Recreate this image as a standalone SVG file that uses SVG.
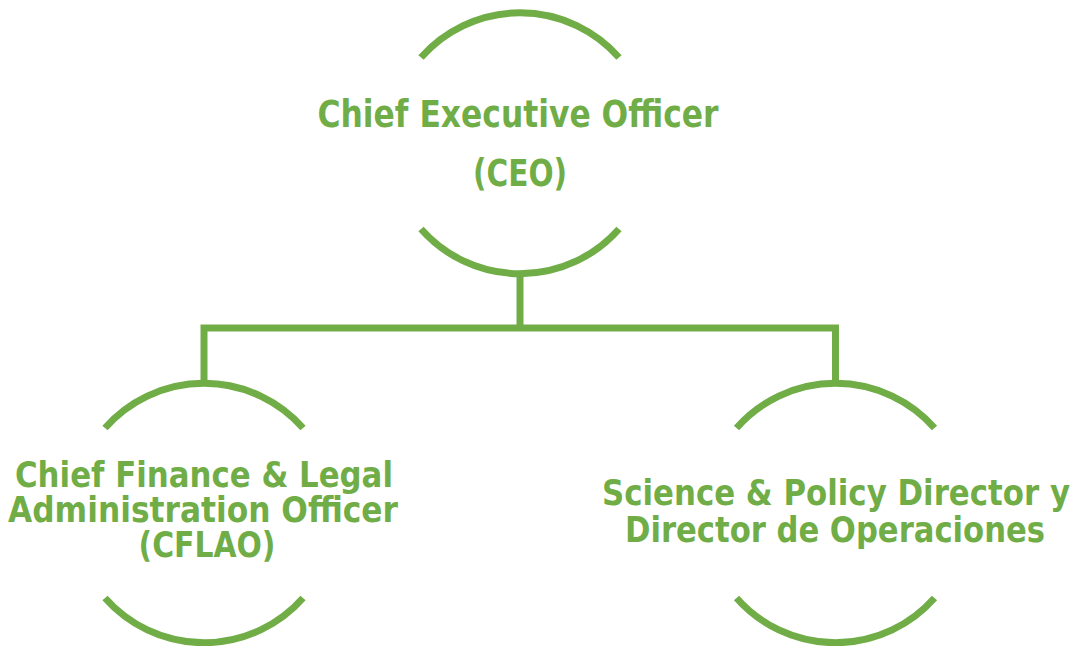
<svg xmlns="http://www.w3.org/2000/svg" width="1080" height="646" viewBox="0 0 1080 646">
  <style>
    .arc { fill: none; stroke: #70AD47; stroke-width: 7; stroke-linecap: butt; }
    .conn { fill: none; stroke: #70AD47; stroke-width: 7; stroke-linecap: butt; stroke-linejoin: miter; }
    .lbl { font-family: "DejaVu Sans", Verdana, sans-serif; font-weight: bold; fill: #70AD47; text-anchor: middle; }
  </style>
  <rect width="1080" height="646" fill="#FFFFFF"/>
  <g id="connectors">
    <path class="conn" d="M520,272 V328"/>
    <path class="conn" d="M204,383 V328 H835.5 V383"/>
  </g>
  <g id="ceo">
    <path class="arc" d="M421,57.5 A132,132 0 0 1 619,57.5"/>
    <path class="arc" d="M421,229 A132,132 0 0 0 619,229"/>
    <text class="lbl" font-size="37" x="518" y="127" textLength="401" lengthAdjust="spacingAndGlyphs">Chief Executive Officer</text>
    <text class="lbl" font-size="37" x="520" y="186" textLength="94" lengthAdjust="spacingAndGlyphs">(CEO)</text>
  </g>
  <g id="cflao">
    <path class="arc" d="M105,428 A132,132 0 0 1 303,428"/>
    <path class="arc" d="M105,598 A132,132 0 0 0 303,598"/>
    <text class="lbl" font-size="36" x="204" y="487" textLength="378" lengthAdjust="spacingAndGlyphs">Chief Finance &amp; Legal</text>
    <text class="lbl" font-size="36" x="203" y="522" textLength="390" lengthAdjust="spacingAndGlyphs">Administration Officer</text>
    <text class="lbl" font-size="36" x="207" y="557" textLength="137" lengthAdjust="spacingAndGlyphs">(CFLAO)</text>
  </g>
  <g id="science">
    <path class="arc" d="M736.5,428 A132,132 0 0 1 934.5,428"/>
    <path class="arc" d="M736.5,598 A132,132 0 0 0 934.5,598"/>
    <text class="lbl" font-size="36" x="836" y="505" textLength="468" lengthAdjust="spacingAndGlyphs">Science &amp; Policy Director y</text>
    <text class="lbl" font-size="36" x="835" y="542" textLength="420" lengthAdjust="spacingAndGlyphs">Director de Operaciones</text>
  </g>
</svg>
